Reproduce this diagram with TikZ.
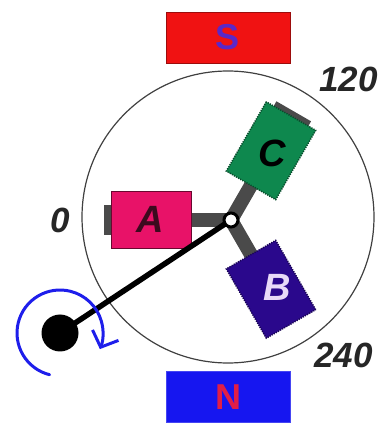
\documentclass[tikz,border=0pt]{standalone}
\usepackage{fontspec}
\setmainfont{Liberation Sans}
\usetikzlibrary{arrows.meta}

\definecolor{poleS}{RGB}{240,18,18}
\definecolor{poleSText}{RGB}{90,40,200}
\definecolor{poleN}{RGB}{22,22,240}
\definecolor{poleNText}{RGB}{225,30,70}
\definecolor{coilA}{RGB}{232,18,104}
\definecolor{coilAText}{RGB}{60,10,30}
\definecolor{coilC}{RGB}{14,136,78}
\definecolor{coilB}{RGB}{42,8,140}
\definecolor{coilBText}{RGB}{232,218,248}
\definecolor{armgray}{RGB}{74,74,74}
\definecolor{spinblue}{RGB}{30,30,235}

\tikzset{
  magnet/.style={rectangle, inner sep=0pt, minimum width=124, minimum height=51,
    font=\fontsize{36}{36}\selectfont\bfseries},
  coil/.style={rectangle, inner sep=0pt, minimum width=80, minimum height=57},
  tab/.style={rectangle, inner sep=0pt, fill=armgray, minimum width=9},
  letter/.style={font=\fontsize{38}{38}\selectfont\bfseries\itshape, inner sep=0pt},
  angle label/.style={font=\fontsize{35}{35}\selectfont\bfseries\itshape, inner sep=0pt, text=black!85},
  arm/.style={draw=armgray, line width=14pt},
  rim/.style={circle, draw=black!75, line width=1.2pt, inner sep=0pt, minimum size=292},
  crank/.style={draw=black, line width=5.5pt},
  spin/.style={draw=spinblue, line width=3pt, line cap=round,
    -{Straight Barb[length=13pt, width=28pt, line width=3pt]}},
}

\begin{document}
\begin{tikzpicture}[x=1pt, y=1pt]
\useasboundingbox (0,0) rectangle (381,424);

% field magnets
\node[magnet, fill=poleS, draw=poleS!65!black, text=poleSText] (S) at (228,386.5) {S};
\node[magnet, fill=poleN, draw=poleN!80!white, text=poleNText] (N) at (228,27) {N};

% rotor outline
\node[rim] (rotor) at (228,207) {};

\coordinate (hub) at (231,204);

% coil positions (120 degrees apart)
\path (hub) ++(180:80) coordinate (pA);
\path (hub) ++(60:80) coordinate (pC);
\path (hub) ++(-60:80) coordinate (pB);

% spokes
\draw[arm] (hub) -- (pA);
\draw[arm] (hub) -- (pC);
\draw[arm] (hub) -- (pB);

% end tabs
\path (hub) ++(180:123) node[tab, minimum height=30] (tabA) {};
\path (hub) ++(60:121) node[tab, rotate=60, minimum height=40] (tabC) {};

% coils
\node[coil, fill=coilA, draw=coilA!45!black, line width=0.8pt] (A) at (pA) {};
\node[coil, fill=coilC, draw=coilC!55!black, line width=1.5pt,
      dash pattern=on 1.2pt off 1.2pt, rotate=60] (C) at (pC) {};
\node[coil, fill=coilB, draw=coilB!60!black, line width=1.5pt,
      dash pattern=on 1.2pt off 1.2pt, rotate=-60] (B) at (pB) {};

\node[letter, text=coilAText] (Alabel) at ([shift={(-1,1)}]A.center) {A};
\node[letter, text=black] (Clabel) at ([shift={(1,-3)}]C.center) {C};
\node[letter, text=coilBText] (Blabel) at ([shift={(6,2)}]B.center) {B};

% crank and handle
\node[circle, fill=black, inner sep=0pt, minimum size=37] (knob) at (60,91) {};
\draw[crank] (hub) -- (knob.center);

% rotation arrow
\draw[spin] (knob.center) ++(256:43) arc[start angle=256, end angle=-22, radius=43];

% axle
\node[circle, fill=white, draw=black, line width=3pt, inner sep=0pt, minimum size=14] (axle) at (hub) {};

% angle marks
\node[angle label] (deg0) at (60,204) {0};
\node[angle label, anchor=west] (deg120) at (319,344.5) {120};
\node[angle label, anchor=west] (deg240) at (314,68.5) {240};
\end{tikzpicture}
\end{document}
